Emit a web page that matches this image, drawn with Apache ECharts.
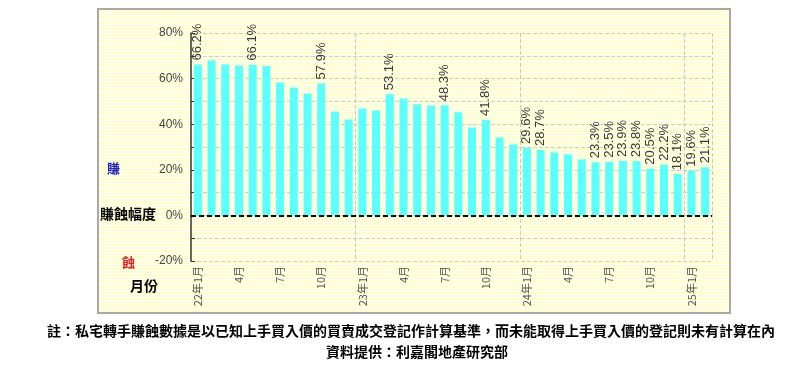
<!DOCTYPE html>
<html>
<head>
<meta charset="utf-8">
<script src="https://cdn.jsdelivr.net/npm/echarts@6/dist/echarts.min.js"></script>
<style>
  body { margin: 0; background: #fff; }
  #wrap { position: relative; width: 811px; height: 377px; }
  #panel {
    position: absolute; left: 97px; top: 8px; width: 630px; height: 302px;
    border: 2px solid #a8a8a8;
    background: repeating-linear-gradient(to bottom, #ffffcc 0px, #ffffcc 2px, #ffffff 2px, #ffffff 3px);
  }
  #main { position: absolute; left: 0; top: 0; width: 811px; height: 377px; }
</style>
</head>
<body>
<div id="wrap">
  <div id="panel"></div>
  <div id="main"></div>
</div>
<script>
// 月份
var months = ['22年1月','2月','3月','4月','5月','6月','7月','8月','9月','10月','11月','12月',
              '23年1月','2月','3月','4月','5月','6月','7月','8月','9月','10月','11月','12月',
              '24年1月','2月','3月','4月','5月','6月','7月','8月','9月','10月','11月','12月',
              '25年1月','2月'];
// 賺蝕幅度 (%)
var gainPct = [66.2, 68.0, 66.2, 65.8, 66.1, 65.5, 58.3, 56.1, 53.5, 57.9, 45.6, 42.1,
               46.9, 46.0, 53.1, 51.3, 48.7, 48.2, 48.3, 45.2, 38.6, 41.8, 34.2, 31.1,
               29.6, 28.7, 27.6, 26.8, 24.6, 23.3, 23.5, 23.9, 23.8, 20.5, 22.2, 18.1,
               19.6, 21.1];
// 有數值標籤的月份 (index)
var labelled = [0, 4, 9, 14, 18, 21, 24, 25, 29, 30, 31, 32, 33, 34, 35, 36, 37];

var noteLine1 = '註：私宅轉手賺蝕數據是以已知上手買入價的買賣成交登記作計算基準，而未能取得上手買入價的登記則未有計算在內';
var noteLine2 = '資料提供：利嘉閣地產研究部';

var FONT = '"Liberation Sans", "Noto Sans CJK TC", sans-serif';
var CJK = '"Noto Sans CJK TC", sans-serif';

var barData = gainPct.map(function (v, i) {
    return {
        value: v,
        label: { show: labelled.indexOf(i) >= 0 }
    };
});

var myChart = echarts.init(document.getElementById('main'), null, { renderer: 'canvas' });
var option = {
    backgroundColor: 'transparent',
    animation: false,
    grid: { left: 191, right: 99, top: 33, bottom: 116 },
    xAxis: {
        type: 'category',
        data: months,
        axisLine: { show: false },
        axisTick: { show: false },
        axisLabel: {
            interval: 2,
            rotate: 90,
            margin: 5,
            color: '#555',
            fontSize: 11,
            fontFamily: CJK
        },
        splitLine: {
            show: true,
            interval: function (i) { return i > 0 && i % 12 === 0; },
            lineStyle: { type: 'dashed', color: '#c8c8c8', width: 1 }
        }
    },
    yAxis: {
        type: 'value',
        min: -20,
        max: 80,
        interval: 10,
        axisLine: { show: true, lineStyle: { color: '#333', width: 1.5 } },
        axisTick: { show: true, inside: true, length: 4, lineStyle: { color: '#333' } },
        axisLabel: {
            margin: 8,
            color: '#444',
            fontSize: 12,
            fontFamily: FONT,
            formatter: function (v) { return v % 20 === 0 ? v + '%' : ''; }
        },
        splitLine: { show: true, lineStyle: { type: 'dashed', color: '#cccccc' } }
    },
    series: [{
        type: 'bar',
        data: barData,
        barWidth: 8,
        itemStyle: { color: '#5affff' },
        label: {
            position: 'top',
            rotate: 90,
            align: 'left',
            verticalAlign: 'middle',
            distance: 4,
            color: '#3a3a3a',
            fontSize: 13,
            fontFamily: FONT,
            formatter: function (p) { return p.value.toFixed(1) + '%'; }
        },
        markLine: {
            silent: true,
            symbol: 'none',
            label: { show: false },
            lineStyle: { type: [5, 3], color: '#000', width: 2 },
            data: [{ yAxis: 0 }]
        }
    }],
    graphic: [
        { type: 'text', left: 107, top: 162, style: { text: '賺', fill: '#2020c0', font: 'bold 13px ' + CJK } },
        { type: 'text', left: 100, top: 207, style: { text: '賺蝕幅度', fill: '#000', font: 'bold 14px ' + CJK } },
        { type: 'text', left: 122, top: 256, style: { text: '蝕', fill: '#e02020', font: 'bold 13px ' + CJK } },
        { type: 'text', left: 130, top: 279, style: { text: '月份', fill: '#000', font: 'bold 14px ' + CJK } },
        { type: 'text', x: 411, y: 331, style: { text: noteLine1, fill: '#000', font: 'bold 14px ' + CJK, align: 'center', verticalAlign: 'middle' } },
        { type: 'text', x: 417, y: 352, style: { text: noteLine2, fill: '#000', font: 'bold 14px ' + CJK, align: 'center', verticalAlign: 'middle' } }
    ]
};
myChart.setOption(option);
</script>
</body>
</html>
